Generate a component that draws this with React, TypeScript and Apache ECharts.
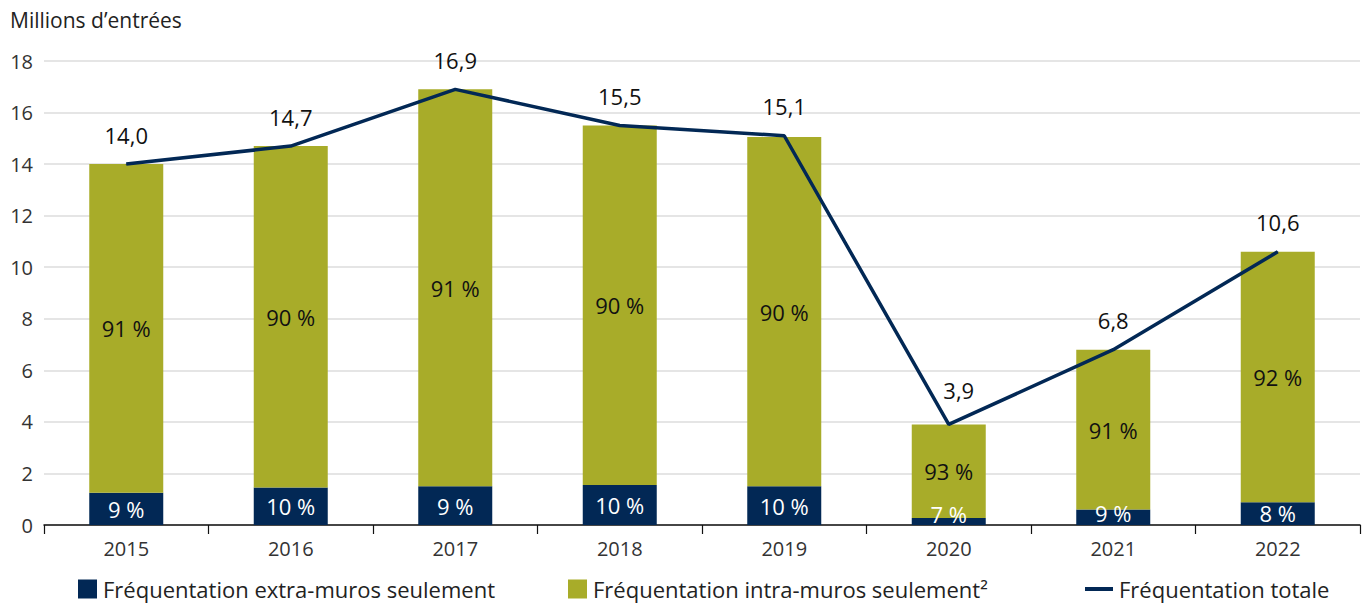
import React, { useEffect, useRef } from "react";
import * as echarts from "echarts";

const years = ["2015", "2016", "2017", "2018", "2019", "2020", "2021", "2022"];
const extraMuros = [1.25, 1.45, 1.5, 1.55, 1.5, 0.27, 0.6, 0.88];
const intraMuros = [12.75, 13.25, 15.4, 13.95, 13.55, 3.63, 6.2, 9.72];
const total = [14.0, 14.7, 16.9, 15.5, 15.1, 3.9, 6.8, 10.6];
const pctExtra = [9, 10, 9, 10, 10, 7, 9, 8];
const pctIntra = [91, 90, 91, 90, 90, 93, 91, 92];
const yTicks = [0, 2, 4, 6, 8, 10, 12, 14, 16, 18];

const NAVY = "#022855";
const OLIVE = "#A8AC29";
const FONT = "'Open Sans', 'Noto Sans', sans-serif";

export default function App() {
  const ref = useRef<HTMLDivElement>(null);
  useEffect(() => {
    if (!ref.current) return;
    const chart = echarts.init(ref.current, null, { renderer: "svg" });
    const legendText = { fontSize: 22, lineHeight: 22, color: "#222", fontFamily: FONT, padding: [0, 0, 0, 1] };
    const extraData = extraMuros.map((v) =>
      v < 1 ? { value: v, label: { offset: [0, -(11 - v * 12)] } } : v
    );
    const totalData = total.map((v, i) =>
      i > 0 && i < total.length - 1 && v < total[i - 1] && v < total[i + 1]
        ? { value: v, label: { offset: [10, -5] } }
        : v
    );
    chart.setOption({
      animation: false,
      textStyle: { fontFamily: FONT },
      grid: { left: 44, right: 9, top: 61, bottom: 80, containLabel: false },
      graphic: [
        {
          type: "text",
          left: 10,
          top: 9,
          style: { text: "Millions d’entrées", font: `21px ${FONT}`, fill: "#222" },
        },
      ],
      legend: [
        {
          left: 73,
          bottom: 0,
          itemWidth: 19,
          itemHeight: 19,
          textStyle: legendText,
          data: [{ name: "Fréquentation extra-muros seulement", icon: "rect" }],
        },
        {
          left: 563,
          bottom: 0,
          itemWidth: 19,
          itemHeight: 19,
          textStyle: legendText,
          data: [{ name: "Fréquentation intra-muros seulement²", icon: "rect" }],
        },
        {
          left: 1080,
          bottom: 0,
          itemWidth: 28,
          itemHeight: 19,
          textStyle: legendText,
          data: [{ name: "Fréquentation totale", icon: "path://M0,7.5 L28,7.5 L28,11.5 L0,11.5 Z" }],
        },
      ],
      xAxis: {
        type: "category",
        data: years,
        boundaryGap: true,
        axisLine: { lineStyle: { color: "#111", width: 1.5 } },
        axisTick: { show: true, length: 9, lineStyle: { color: "#111", width: 1.2 } },
        axisLabel: { fontSize: 20, color: "#333", margin: 13, fontFamily: FONT },
      },
      yAxis: {
        type: "value",
        min: 0,
        max: 18,
        interval: 2,
        axisLine: { show: false },
        axisTick: { show: false },
        axisLabel: {
          fontSize: 20,
          color: "#333",
          margin: 11,
          fontFamily: FONT,
          formatter: (v: number) => (yTicks.includes(v) ? String(v) : ""),
        },
        splitLine: { lineStyle: { color: "#dcdcdc", width: 1.5 } },
      },
      series: [
        {
          name: "Fréquentation extra-muros seulement",
          type: "bar",
          stack: "a",
          barWidth: 74,
          data: extraData,
          itemStyle: { color: NAVY },
          label: {
            show: true,
            position: "inside",
            color: "#fff",
            fontSize: 22,
            lineHeight: 22,
            fontFamily: FONT,
            formatter: (p: any) => `${pctExtra[p.dataIndex]} %`,
          },
        },
        {
          name: "Fréquentation intra-muros seulement²",
          type: "bar",
          stack: "a",
          barWidth: 74,
          data: intraMuros,
          itemStyle: { color: OLIVE },
          label: {
            show: true,
            position: "inside",
            color: "#111",
            fontSize: 22,
            fontFamily: FONT,
            formatter: (p: any) => `${pctIntra[p.dataIndex]} %`,
          },
        },
        {
          name: "Fréquentation totale",
          type: "line",
          data: totalData,
          showSymbol: true,
          symbol: "circle",
          symbolSize: 1,
          lineStyle: { color: NAVY, width: 3.5 },
          itemStyle: { color: NAVY },
          label: {
            show: true,
            position: "top",
            distance: 18,
            color: "#111",
            fontSize: 22,
            fontFamily: FONT,
            formatter: (p: any) => total[p.dataIndex].toFixed(1).replace(".", ","),
          },
          z: 5,
        },
      ],
    });
    return () => chart.dispose();
  }, []);
  return <div ref={ref} style={{ width: 1369, height: 605, position: "absolute", left: 0, top: 0 }} />;
}
